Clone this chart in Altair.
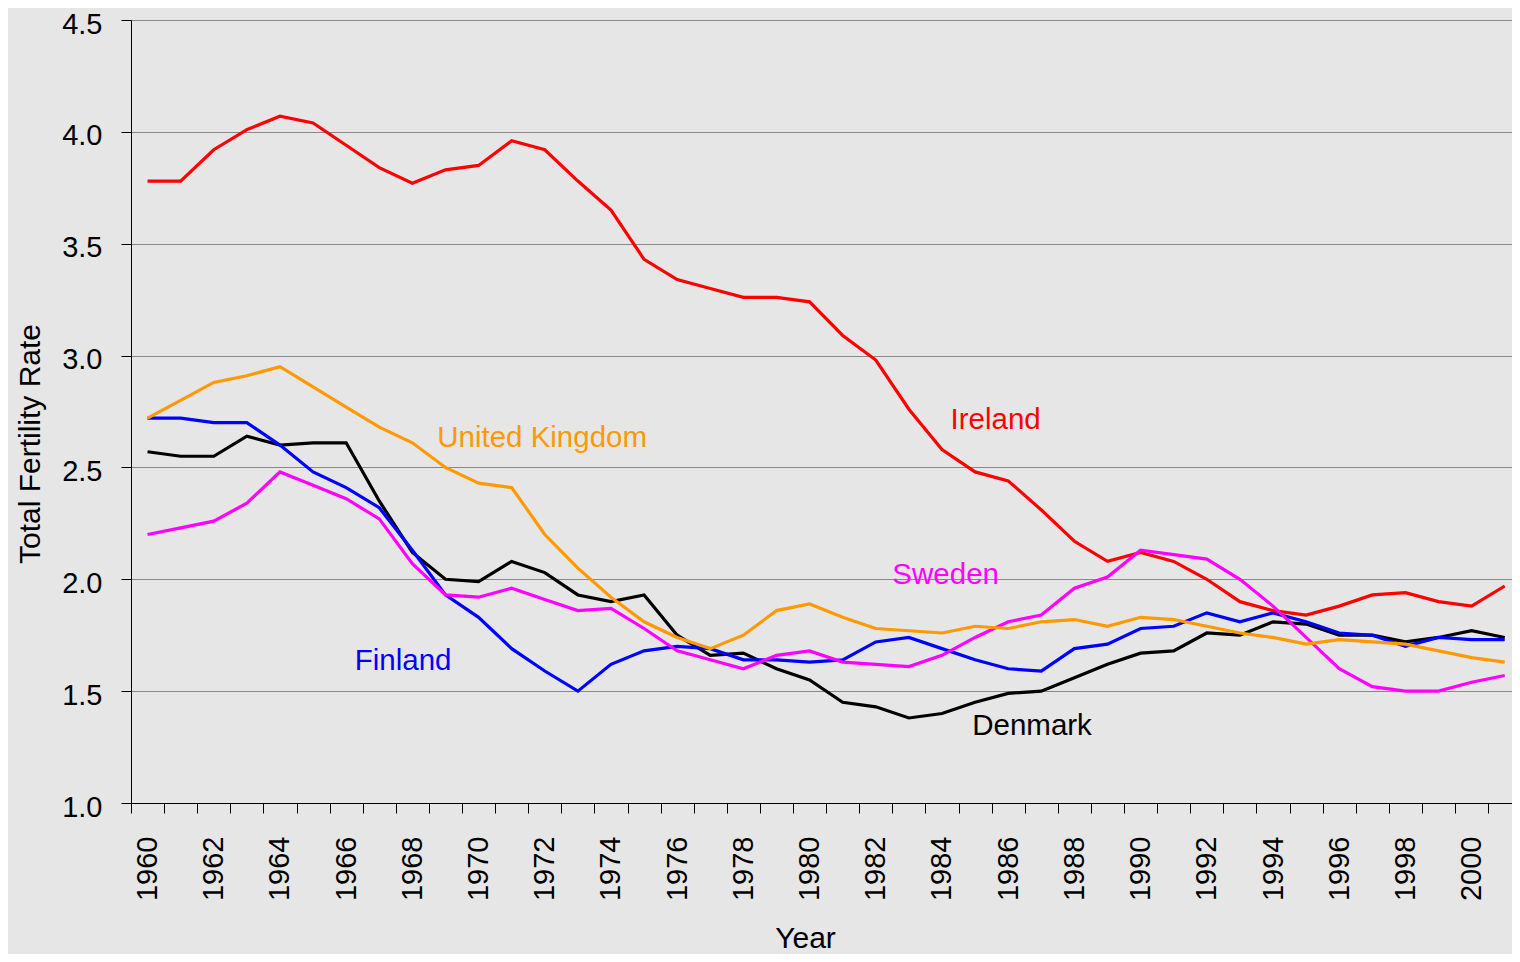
import altair as alt
import pandas as pd

# ---- data ----
years = list(range(1960, 2002))

ireland = [3.78, 3.78, 3.92, 4.01, 4.07, 4.04, 3.94, 3.84, 3.77, 3.83,
           3.85, 3.96, 3.92, 3.78, 3.65, 3.43, 3.34, 3.30, 3.26, 3.26,
           3.24, 3.09, 2.98, 2.76, 2.58, 2.48, 2.44, 2.31, 2.17, 2.08,
           2.12, 2.08, 2.00, 1.90, 1.86, 1.84, 1.88, 1.93, 1.94, 1.90,
           1.88, 1.97]
united_kingdom = [2.72, 2.80, 2.88, 2.91, 2.95, 2.86, 2.77, 2.68, 2.61, 2.50,
                  2.43, 2.41, 2.20, 2.05, 1.92, 1.81, 1.74, 1.69, 1.75, 1.86,
                  1.89, 1.83, 1.78, 1.77, 1.76, 1.79, 1.78, 1.81, 1.82, 1.79,
                  1.83, 1.82, 1.79, 1.76, 1.74, 1.71, 1.73, 1.72, 1.71, 1.68,
                  1.65, 1.63]
finland = [2.72, 2.72, 2.70, 2.70, 2.60, 2.48, 2.41, 2.32, 2.13, 1.93,
           1.83, 1.69, 1.59, 1.50, 1.62, 1.68, 1.70, 1.69, 1.64, 1.64,
           1.63, 1.64, 1.72, 1.74, 1.69, 1.64, 1.60, 1.59, 1.69, 1.71,
           1.78, 1.79, 1.85, 1.81, 1.85, 1.81, 1.76, 1.75, 1.70, 1.74,
           1.73, 1.73]
denmark = [2.57, 2.55, 2.55, 2.64, 2.60, 2.61, 2.61, 2.35, 2.12, 2.00,
           1.99, 2.08, 2.03, 1.93, 1.90, 1.93, 1.75, 1.66, 1.67, 1.60,
           1.55, 1.45, 1.43, 1.38, 1.40, 1.45, 1.49, 1.50, 1.56, 1.62,
           1.67, 1.68, 1.76, 1.75, 1.81, 1.80, 1.75, 1.75, 1.72, 1.74,
           1.77, 1.74]
sweden = [2.20, 2.23, 2.26, 2.34, 2.48, 2.42, 2.36, 2.27, 2.07, 1.93,
          1.92, 1.96, 1.91, 1.86, 1.87, 1.78, 1.68, 1.64, 1.60, 1.66,
          1.68, 1.63, 1.62, 1.61, 1.66, 1.74, 1.81, 1.84, 1.96, 2.01,
          2.13, 2.11, 2.09, 2.00, 1.88, 1.74, 1.60, 1.52, 1.50, 1.50,
          1.54, 1.57]

countries = ["Denmark", "Finland", "Ireland", "Sweden", "United Kingdom"]
colors = ["#000000", "#0000ff", "#ff0000", "#ff00ff", "#ff9900"]

y_ticks = [1.0, 1.5, 2.0, 2.5, 3.0, 3.5, 4.0, 4.5]

# direct labels (text, anchor year, anchor value)
label_text = ["Ireland", "United Kingdom", "Sweden", "Finland", "Denmark"]
label_year = [1985.62, 1971.92, 1984.11, 1967.72, 1986.72]
label_value = [2.672, 2.593, 1.979, 1.594, 1.304]

# ---- tables ----
series = {"Denmark": denmark, "Finland": finland, "Ireland": ireland,
          "Sweden": sweden, "United Kingdom": united_kingdom}
rows = []
for name in countries:
    for yr, v in zip(years, series[name]):
        rows.append({"Year": yr, "TFR": v, "Country": name})
df = pd.DataFrame(rows)
labels = pd.DataFrame({"Year": label_year, "TFR": label_value, "Country": label_text})

FONT = "Liberation Sans"

x_scale = alt.Scale(domain=[1959.5, 2001.22], nice=False, zero=False)
y_scale = alt.Scale(domain=[1.0, 4.5], nice=False, zero=False)
color_scale = alt.Scale(domain=countries, range=colors)

x_axis = alt.Axis(
    values=years, format="d",
    labelExpr="datum.value % 2 == 0 ? datum.label : ''",
    labelAngle=270, labelFontSize=29, labelPadding=23, labelColor="black",
    labelOverlap=False, labelFlush=False,
    tickSize=10, tickOffset=-16.55, labelOffset=16.55, tickColor="black",
    domainColor="black", grid=False,
    title="Year", titleFontSize=30, titleFontWeight="normal", titleColor="black",
    titleX=674, titleY=144, titleBaseline="alphabetic", titleAlign="center",
)
y_axis = alt.Axis(
    values=y_ticks, format=".1f",
    labelFontSize=29, labelPadding=19, labelColor="black", labelOffset=4,
    tickSize=10, tickColor="black", domainColor="black",
    grid=True, gridColor="#888888", gridWidth=1,
    title="Total Fertility Rate", titleFontSize=30, titleFontWeight="normal",
    titleColor="black", titleAngle=270, titleX=-92, titleY=423.5,
    titleBaseline="alphabetic", titleAlign="center",
)

x_enc = alt.X("Year:Q", scale=x_scale, axis=x_axis)
y_enc = alt.Y("TFR:Q", scale=y_scale, axis=y_axis)
c_enc = alt.Color("Country:N", scale=color_scale, legend=None)

lines = alt.Chart(df).mark_line(strokeWidth=3.2).encode(
    x=x_enc, y=y_enc, color=c_enc
)

texts = alt.Chart(labels).mark_text(
    fontSize=29.5, baseline="alphabetic", align="center", font=FONT
).encode(
    x=x_enc, y=y_enc, color=c_enc, text="Country:N"
)

chart = alt.layer(lines, texts).properties(
    width=1381, height=783,
    autosize=alt.AutoSizeParams(type="none"),
    padding={"left": 123, "top": 12, "right": 0, "bottom": 151},
).configure(
    background="#e6e6e6", font=FONT
).configure_view(stroke=None)

chart.save("out.html", embed_options={"renderer": "svg", "actions": False})
